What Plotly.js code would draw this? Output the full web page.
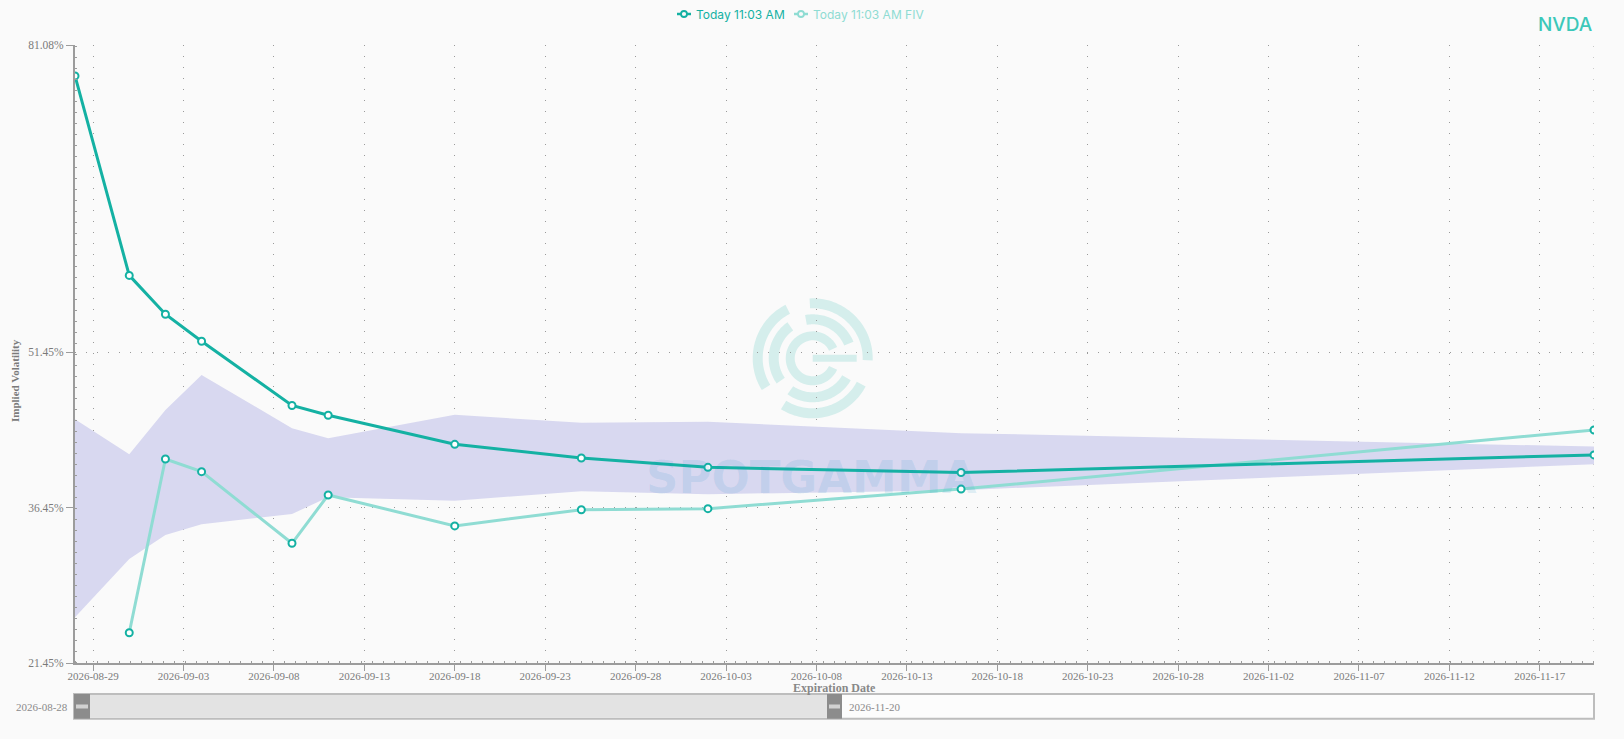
<!DOCTYPE html>
<html>
<head>
<meta charset="utf-8">
<script src="https://cdn.plot.ly/plotly-3.0.1.min.js"></script>
<style>
  html, body { margin: 0; padding: 0; background: #fafafa; }
  #chart { width: 1624px; height: 739px; }
</style>
</head>
<body>
<div id="chart"></div>
<script>
// ---- data ----
const dates = ['2026-08-28','2026-08-31','2026-09-02','2026-09-04','2026-09-09','2026-09-11','2026-09-18','2026-09-25','2026-10-02','2026-10-16','2026-11-20'];
const ivToday = [78.1, 58.85, 55.1, 52.5, 46.3, 45.35, 42.55, 41.23, 40.33, 39.83, 41.53];
const fivDates = ['2026-08-31','2026-09-02','2026-09-04','2026-09-09','2026-09-11','2026-09-18','2026-09-25','2026-10-02','2026-10-16','2026-11-20'];
const ivFiv = [24.37, 41.13, 39.91, 33.0, 37.66, 34.68, 36.24, 36.34, 38.23, 43.93];
const bandUpper = [44.97, 41.59, 45.86, 49.24, 44.1, 43.13, 45.4, 44.63, 44.73, 43.63, 42.33];
const bandLower = [25.86, 31.49, 33.8, 34.83, 35.83, 37.44, 37.1, 38.03, 37.73, 38.13, 40.63];
const yTickVals = [21.45, 36.45, 51.45, 81.08];
const yTickText = ['21.45%', '36.45%', '51.45%', '81.08%'];
const xRange = ['2026-08-28', '2026-11-20'];
const seriesNames = ['Today 11:03 AM', 'Today 11:03 AM FIV'];
const brushStart = '2026-08-28';
const brushEnd = '2026-11-20';
const ticker = 'NVDA';

// ---- styling ----
const TEAL = '#14b1a3';
const TEAL_LIGHT = '#8fdcd3';
const BAND = 'rgb(216,216,240)';
const GRID = '#9a9a9a';
const AXIS = '#9c9c9c';
const SERIF = 'Liberation Serif, Times New Roman, serif';
const SANS = 'Inter, Roboto, sans-serif';
const WM = 'rgba(26,179,166,0.16)';
const WM_TEXT = 'rgba(40,150,200,0.13)';

// plot area in pixels (for decoration placement)
const L = 75, R = 30, T = 45, B = 76, W = 1624, H = 739;
const PW = W - L - R, PH = H - T - B;
function px(x) { return (x - L) / PW; }
function py(y) { return (H - B - y) / PH; }

// watermark logo (decoration)
const cx = 812.7, cy = 358.3;
function arcPath(r1, r2, a0, a1) {
  const pts = [];
  const n = 40;
  for (let i = 0; i <= n; i++) {
    const a = (a0 + (a1 - a0) * i / n) * Math.PI / 180;
    pts.push([px(cx + r2 * Math.cos(a)), py(cy - r2 * Math.sin(a))]);
  }
  for (let i = n; i >= 0; i--) {
    const a = (a0 + (a1 - a0) * i / n) * Math.PI / 180;
    pts.push([px(cx + r1 * Math.cos(a)), py(cy - r1 * Math.sin(a))]);
  }
  return 'M' + pts.map(p => p[0].toFixed(5) + ',' + p[1].toFixed(5)).join('L') + 'Z';
}
function rectPath(x0, y0, x1, y1) {
  return 'M' + px(x0) + ',' + py(y0) + 'L' + px(x1) + ',' + py(y0) + 'L' + px(x1) + ',' + py(y1) + 'L' + px(x0) + ',' + py(y1) + 'Z';
}
const logoPaths = [
  arcPath(50, 60, -2, 93), arcPath(50, 60, -122, -28), arcPath(50, 60, 117, 212),
  arcPath(34, 44, 22, 100), arcPath(34, 44, 125, 215), arcPath(34, 44, 235, 330),
  arcPath(18, 27, 25, 335),
  rectPath(cx, cy - 3.5, cx + 44, cy + 3.5)
];

const shapes = logoPaths.map(p => ({
  type: 'path', path: p, xref: 'paper', yref: 'paper',
  fillcolor: WM, line: { width: 0 }, layer: 'below'
}));

// right-edge dotted grid line
shapes.push({ type: 'line', xref: 'x', yref: 'paper', x0: xRange[1], x1: xRange[1], y0: 0, y1: 1,
  line: { color: GRID, width: 1, dash: '1px,10px' }, layer: 'below' });
// dotted stubs along axes
shapes.push({ type: 'line', xref: 'paper', yref: 'paper', x0: 0, x1: 1, y0: 0, y1: 0,
  line: { color: AXIS, width: 4, dash: '1px,10px' } });
shapes.push({ type: 'line', xref: 'paper', yref: 'paper', x0: 0, x1: 0, y0: 0, y1: 1,
  line: { color: AXIS, width: 4, dash: '1px,10px' } });

// bottom brush (decoration)
const bTop = 694, bBot = 718.7;
shapes.push({ type: 'rect', xref: 'paper', yref: 'paper', x0: px(74), x1: px(1594), y0: py(bTop), y1: py(bBot),
  fillcolor: '#fcfcfc', line: { color: '#bdbdbd', width: 2 } });
shapes.push({ type: 'rect', xref: 'paper', yref: 'paper', x0: px(82), x1: px(835), y0: py(bTop + 1), y1: py(bBot - 1),
  fillcolor: '#e3e3e3', line: { width: 0 } });
[[74, 90], [827, 842]].forEach(h => {
  shapes.push({ type: 'rect', xref: 'paper', yref: 'paper', x0: px(h[0]), x1: px(h[1]), y0: py(bTop), y1: py(bBot),
    fillcolor: '#8c8c8c', line: { width: 0 } });
  shapes.push({ type: 'rect', xref: 'paper', yref: 'paper', x0: px(h[0] + 2), x1: px(h[1] - 2), y0: py(704.5), y1: py(708.5),
    fillcolor: '#d2d2d2', line: { width: 0 } });
});

// custom legend (short line + open circle + coloured text)
const legendY = 14;
const legendItems = [
  { x: 677, color: TEAL, name: seriesNames[0] },
  { x: 794, color: TEAL_LIGHT, name: seriesNames[1] }
];
const annotations = [];
legendItems.forEach(it => {
  shapes.push({ type: 'line', xref: 'paper', yref: 'paper', x0: px(it.x), x1: px(it.x + 14),
    y0: py(legendY), y1: py(legendY), line: { color: it.color, width: 2.5 } });
  shapes.push({ type: 'circle', xref: 'paper', yref: 'paper',
    x0: px(it.x + 4), x1: px(it.x + 10), y0: py(legendY - 3), y1: py(legendY + 3),
    fillcolor: '#fafafa', line: { color: it.color, width: 1.8 } });
  annotations.push({ text: it.name, xref: 'paper', yref: 'paper', x: px(it.x + 17), y: py(legendY),
    xanchor: 'left', yanchor: 'middle', showarrow: false,
    font: { family: SANS, size: 12, color: it.color } });
});

annotations.push(
  { text: 'SPOTGAMMA', xref: 'paper', yref: 'paper', x: px(811), y: py(477), xanchor: 'center', yanchor: 'middle',
    showarrow: false, font: { family: 'DejaVu Sans, sans-serif', size: 45, color: WM_TEXT, weight: 'bold' } },
  { text: ticker, xref: 'paper', yref: 'paper', x: 1, y: py(25), xanchor: 'right', yanchor: 'middle',
    showarrow: false, font: { family: SANS, size: 19, color: '#3cc8b9', weight: 500 } },
  { text: 'Implied Volatility', xref: 'paper', yref: 'paper', x: px(15), y: py(380), xanchor: 'center', yanchor: 'middle',
    textangle: -90, showarrow: false, font: { family: SERIF, size: 11, color: '#7a7a7a', weight: 'bold' } },
  { text: 'Expiration Date', xref: 'paper', yref: 'paper', x: 0.5, y: py(688), xanchor: 'center', yanchor: 'middle',
    showarrow: false, font: { family: SERIF, size: 12, color: '#888888', weight: 'bold' } },
  { text: brushStart, xref: 'paper', yref: 'paper', x: px(70), y: py(706.5), xanchor: 'right', yanchor: 'middle',
    showarrow: false, font: { family: SERIF, size: 11, color: '#8a8a8a' } },
  { text: brushEnd, xref: 'paper', yref: 'paper', x: px(847), y: py(706.5), xanchor: 'left', yanchor: 'middle',
    showarrow: false, font: { family: SERIF, size: 11, color: '#8a8a8a' } }
);

const markerStyle = { symbol: 'circle', size: 7, color: '#ffffff', line: { color: TEAL, width: 2 } };

const traces = [
  { x: dates, y: bandLower, type: 'scatter', mode: 'lines', line: { width: 0, color: BAND },
    showlegend: false, hoverinfo: 'skip' },
  { x: dates, y: bandUpper, type: 'scatter', mode: 'lines', line: { width: 0, color: BAND },
    fill: 'tonexty', fillcolor: BAND, showlegend: false, hoverinfo: 'skip' },
  { x: fivDates, y: ivFiv, type: 'scatter', mode: 'lines+markers', name: seriesNames[1],
    line: { color: TEAL_LIGHT, width: 3 }, marker: markerStyle, showlegend: false },
  { x: dates, y: ivToday, type: 'scatter', mode: 'lines+markers', name: seriesNames[0],
    line: { color: TEAL, width: 3 }, marker: markerStyle, showlegend: false }
];

const layout = {
  width: W, height: H,
  margin: { l: L, r: R, t: T, b: B, autoexpand: false },
  paper_bgcolor: '#fafafa',
  plot_bgcolor: '#fafafa',
  showlegend: false,
  xaxis: {
    type: 'date', range: xRange,
    tickmode: 'linear', tick0: '2026-08-29', dtick: 5 * 86400000, tickformat: '%Y-%m-%d',
    ticks: 'outside', ticklen: 6, tickcolor: AXIS, tickwidth: 1,
    ticklabelstandoff: -4,
    showline: true, linecolor: AXIS, linewidth: 2,
    showgrid: true, gridcolor: GRID, griddash: '1px,10px', gridwidth: 1,
    zeroline: false,
    tickfont: { family: SERIF, size: 11, color: '#7a7a7a' },
    automargin: false, fixedrange: true
  },
  yaxis: {
    range: [yTickVals[0], yTickVals[3]],
    tickmode: 'array', tickvals: yTickVals, ticktext: yTickText,
    ticks: 'outside', ticklen: 7, tickcolor: AXIS, tickwidth: 1,
    showline: true, linecolor: AXIS, linewidth: 2,
    showgrid: true, gridcolor: GRID, griddash: '1px,10px', gridwidth: 1,
    zeroline: false,
    tickfont: { family: SERIF, size: 11.5, color: '#7a7a7a' },
    automargin: false, fixedrange: true
  },
  shapes: shapes,
  annotations: annotations,
  hovermode: false
};

Plotly.newPlot('chart', traces, layout, { displayModeBar: false, staticPlot: true });
</script>
</body>
</html>
